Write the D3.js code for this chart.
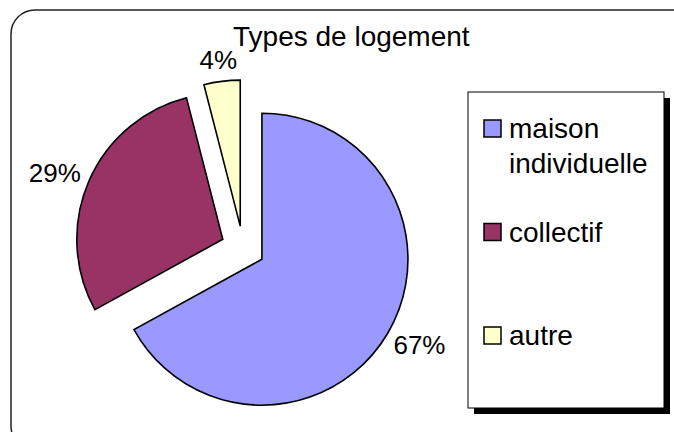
<!DOCTYPE html>
<html>
<head>
<meta charset="utf-8">
<script src="https://cdn.jsdelivr.net/npm/d3@7"></script>
<style>
  body { margin: 0; background: #fff; }
  svg text { font-family: "Liberation Sans", Arial, sans-serif; fill: #000; }
</style>
</head>
<body>
<div id="chart"></div>
<script>
// data
var categories = ["maison individuelle", "collectif", "autre"];
var legendLines = [["maison", "individuelle"], ["collectif"], ["autre"]];
var values = [67, 29, 4];
var colors = ["#9999FF", "#993366", "#FFFFCC"];
var title = "Types de logement";

var svgWidth = 674;
var svgHeight = 432;

var svg = d3.select("#chart")
    .append("svg")
    .attr("width", svgWidth)
    .attr("height", svgHeight);

// outer frame
svg.append("rect")
    .attr("x", 11)
    .attr("y", 10)
    .attr("width", 700)
    .attr("height", 440)
    .attr("rx", 24)
    .attr("fill", "#fff")
    .attr("stroke", "#222")
    .attr("stroke-width", 1.5);

svg.append("text")
    .attr("x", 233)
    .attr("y", 46)
    .attr("font-size", "28px")
    .text(title);

// pie
var cx = 243, cy = 248;
var radius = 146;
var explode = 22;
var labelRadius = 157;

var pie = d3.pie().sort(null).value(d => d);
var arc = d3.arc().innerRadius(0).outerRadius(radius);
var arcs = pie(values);

var pieGroup = svg.append("g")
    .attr("transform", `translate(${cx},${cy})`);

var slices = pieGroup.selectAll("g.slice")
    .data(arcs)
    .enter()
    .append("g")
    .attr("class", "slice")
    .attr("transform", function(d) {
        var a = (d.startAngle + d.endAngle) / 2;
        return `translate(${explode * Math.sin(a)},${-explode * Math.cos(a)})`;
    });

slices.append("path")
    .attr("d", arc)
    .attr("fill", (d, i) => colors[i])
    .attr("stroke", "#000")
    .attr("stroke-width", 1.6)
    .attr("stroke-linejoin", "miter");

slices.append("text")
    .attr("font-size", "26px")
    .attr("text-anchor", "middle")
    .attr("dy", "0.35em")
    .text(d => d.value + "%")
    .each(function(d) {
        var a = (d.startAngle + d.endAngle) / 2;
        var w = this.getComputedTextLength();
        var h = 22;
        var x = labelRadius * Math.sin(a) + Math.sin(a) * w / 2;
        var y = -labelRadius * Math.cos(a) - Math.cos(a) * h / 2;
        d3.select(this).attr("x", x).attr("y", y);
    });

// legend
var legend = svg.append("g");

legend.append("rect")
    .attr("x", 474)
    .attr("y", 98)
    .attr("width", 196)
    .attr("height", 316)
    .attr("fill", "#000");

legend.append("rect")
    .attr("x", 468)
    .attr("y", 92)
    .attr("width", 196)
    .attr("height", 316)
    .attr("fill", "#fff")
    .attr("stroke", "#000")
    .attr("stroke-width", 1);

var legendY = d3.scalePoint()
    .domain(categories)
    .range([120, 327]);

var items = legend.selectAll("g.item")
    .data(categories)
    .enter()
    .append("g")
    .attr("class", "item")
    .attr("transform", d => `translate(484,${legendY(d)})`);

items.append("rect")
    .attr("width", 17)
    .attr("height", 17)
    .attr("fill", (d, i) => colors[i])
    .attr("stroke", "#000")
    .attr("stroke-width", 1.5);

items.append("text")
    .attr("x", 25)
    .attr("y", 18)
    .attr("font-size", "28px")
    .selectAll("tspan")
    .data((d, i) => legendLines[i])
    .enter()
    .append("tspan")
    .attr("x", 25)
    .attr("dy", (d, i) => i === 0 ? 0 : 35)
    .text(d => d);
</script>
</body>
</html>
